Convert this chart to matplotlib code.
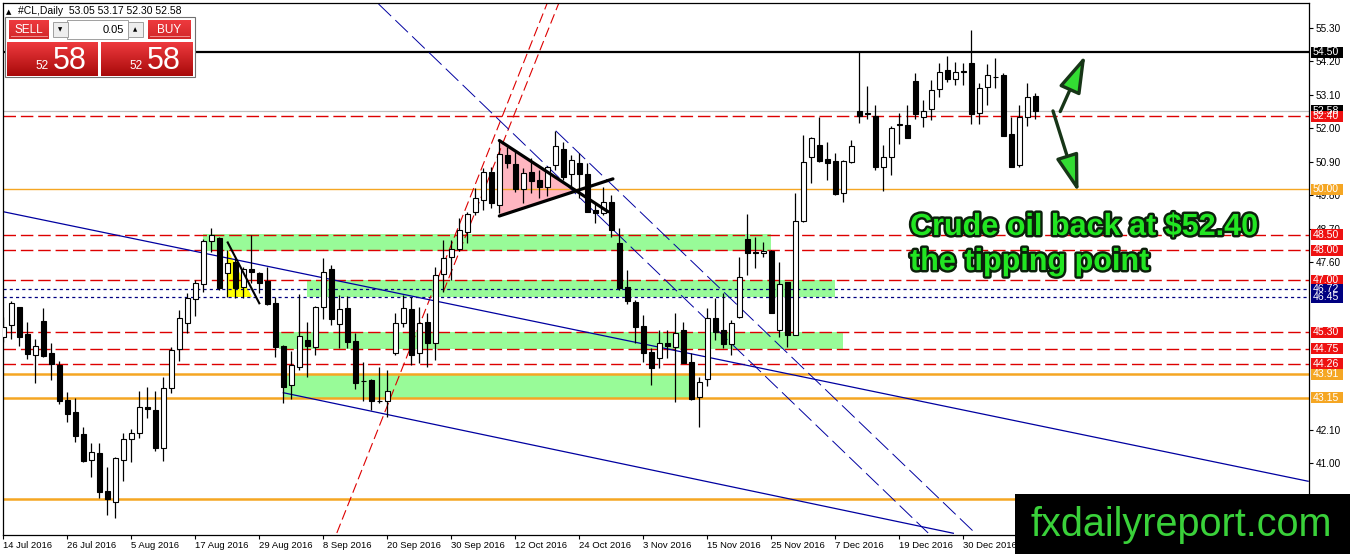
import matplotlib
matplotlib.use('Agg')
import matplotlib.pyplot as plt
import matplotlib.patheffects as pe
from matplotlib.patches import Rectangle, Polygon, FancyArrowPatch
from matplotlib.colors import LinearSegmentedColormap
import numpy as np

plt.rcParams['font.family'] = ['Liberation Sans', 'DejaVu Sans']

# #CL daily bars (one entry per bar)
opens = [45.15, 45.53, 46.12, 45.23, 44.55, 45.67, 44.61, 44.22, 43.07, 42.68,
         41.95, 41.10, 41.33, 40.08, 39.71, 41.10, 41.78, 41.97, 42.83, 42.74,
         41.48, 43.46, 44.74, 45.59, 46.38, 46.88, 48.29, 48.39, 47.24, 47.62,
         46.80, 47.37, 47.24, 46.99, 46.25, 44.85, 43.55, 44.15, 45.04, 44.82,
         46.12, 47.37, 45.57, 46.08, 45.02, 43.71, 43.73, 43.05, 43.03, 44.61,
         45.61, 46.05, 44.61, 45.65, 44.95, 47.21, 47.76, 48.03, 48.60, 49.26,
         49.65, 50.58, 49.48, 51.13, 50.83, 50.00, 50.58, 50.30, 50.06, 50.80,
         51.31, 50.50, 50.85, 50.50, 49.32, 49.21, 49.59, 48.22, 46.78, 46.30,
         45.50, 44.65, 44.44, 44.95, 44.82, 45.37, 44.33, 43.18, 43.75, 45.76,
         45.37, 44.91, 45.81, 48.35, 47.95, 47.91, 47.98, 45.37, 46.96, 45.21,
         48.97, 51.05, 51.45, 50.98, 50.93, 49.87, 50.90, 52.57, 52.50, 52.42,
         50.74, 51.07, 52.11, 52.11, 53.56, 52.39, 52.64, 53.28, 53.92, 53.61,
         53.87, 54.14, 52.49, 53.35, 53.70, 53.75, 51.80, 50.80, 52.36, 53.05]
highs = [45.81, 46.34, 46.13, 45.65, 45.07, 46.08, 44.95, 44.36, 43.34, 43.13,
         42.19, 41.67, 41.67, 40.88, 41.19, 41.97, 42.11, 43.37, 43.51, 43.37,
         43.84, 44.82, 46.02, 46.58, 47.02, 48.35, 48.72, 48.42, 47.99, 47.73,
         47.45, 48.50, 47.29, 47.45, 46.45, 44.87, 44.69, 46.56, 45.65, 46.16,
         47.73, 47.51, 46.52, 46.49, 45.26, 44.33, 43.75, 44.17, 44.06, 45.93,
         46.52, 46.47, 46.14, 45.92, 47.45, 48.33, 48.33, 49.04, 49.26, 50.03,
         50.69, 50.74, 51.62, 51.40, 51.29, 50.69, 51.02, 50.63, 50.76, 51.92,
         51.56, 51.13, 51.18, 50.87, 49.59, 50.06, 49.81, 48.72, 47.34, 46.36,
         45.86, 44.77, 45.37, 45.37, 45.92, 45.65, 44.61, 43.84, 46.08, 46.41,
         46.58, 45.70, 47.78, 49.19, 48.44, 48.27, 48.00, 47.62, 46.96, 49.89,
         51.78, 51.73, 52.38, 51.56, 51.18, 50.96, 51.62, 54.50, 53.39, 52.77,
         51.45, 52.08, 52.49, 52.77, 53.81, 52.93, 53.59, 54.14, 54.38, 54.19,
         54.14, 55.23, 53.48, 54.12, 54.30, 53.81, 52.38, 52.77, 53.48, 53.17]
lows = [44.99, 45.07, 44.85, 44.41, 43.64, 44.50, 43.73, 42.94, 42.35, 41.68,
        41.04, 40.55, 39.84, 39.28, 39.18, 40.42, 41.04, 41.81, 42.47, 41.40,
        41.08, 43.31, 44.36, 45.28, 45.83, 46.63, 47.95, 46.70, 46.45, 46.41,
        46.41, 46.91, 46.60, 46.19, 44.49, 42.98, 43.09, 44.06, 43.84, 44.55,
        45.72, 45.54, 44.77, 44.78, 43.42, 43.05, 42.74, 42.98, 42.52, 44.55,
        45.48, 44.22, 44.28, 44.17, 44.39, 46.63, 47.02, 47.98, 48.24, 49.15,
        49.32, 49.37, 49.21, 50.69, 49.92, 49.54, 49.87, 49.70, 49.77, 50.63,
        50.30, 50.08, 49.70, 49.24, 48.88, 49.15, 48.44, 46.69, 46.23, 44.95,
        44.33, 43.56, 44.11, 44.44, 43.02, 44.28, 43.07, 42.19, 43.53, 45.04,
        44.77, 44.55, 45.76, 47.18, 47.40, 47.78, 45.92, 45.13, 44.82, 45.21,
        48.93, 50.19, 50.91, 50.30, 49.81, 49.59, 50.85, 52.17, 52.31, 50.63,
        49.95, 50.47, 51.49, 51.67, 52.30, 52.05, 52.28, 53.02, 53.54, 53.43,
        53.43, 52.14, 52.14, 52.77, 53.32, 51.76, 50.72, 50.74, 52.08, 52.30]
closes = [45.48, 46.27, 45.13, 44.57, 44.85, 44.52, 44.25, 43.05, 42.60, 41.90,
          41.08, 41.35, 40.06, 39.82, 41.15, 41.78, 41.97, 42.85, 42.77, 41.48,
          43.46, 44.72, 45.76, 46.41, 46.91, 48.31, 48.50, 46.74, 47.57, 46.74,
          47.37, 47.29, 46.93, 46.23, 44.82, 43.51, 44.22, 45.17, 44.85, 46.12,
          47.29, 45.72, 46.05, 44.97, 43.62, 43.68, 43.05, 43.03, 43.38, 45.61,
          46.08, 44.55, 45.59, 44.94, 47.18, 47.73, 48.03, 48.66, 49.19, 49.70,
          50.58, 49.56, 51.16, 50.85, 50.00, 50.52, 50.28, 50.06, 50.74, 51.42,
          50.39, 50.96, 50.50, 49.26, 49.21, 49.59, 48.66, 46.74, 46.33, 45.48,
          44.63, 44.11, 44.95, 44.85, 45.28, 44.30, 43.10, 43.67, 45.76, 45.32,
          44.91, 45.59, 47.10, 47.89, 47.91, 47.98, 45.92, 46.88, 45.21, 48.97,
          50.89, 51.67, 50.94, 50.87, 49.83, 50.94, 51.43, 52.42, 52.48, 50.74,
          51.07, 52.02, 52.14, 51.67, 52.47, 52.58, 53.26, 53.85, 53.62, 53.84,
          53.86, 52.46, 53.34, 53.75, 53.69, 51.76, 50.74, 52.36, 53.02, 52.58]

date_ticks = [0, 8, 16, 24, 32, 40, 48, 56, 64, 72, 80, 88, 96, 104, 112, 120]
date_labels = ['14 Jul 2016', '26 Jul 2016', '5 Aug 2016', '17 Aug 2016',
               '29 Aug 2016', '8 Sep 2016', '20 Sep 2016', '30 Sep 2016',
               '12 Oct 2016', '24 Oct 2016', '3 Nov 2016', '15 Nov 2016',
               '25 Nov 2016', '7 Dec 2016', '19 Dec 2016', '30 Dec 2016']
# grid prices that the terminal still prints (the rest sit under price tags)
price_ticks = [55.30, 54.20, 53.10, 52.00, 50.90, 49.80, 48.70, 47.60,
               42.10, 41.00]

# horizontal levels
resistance = 54.50
bid = 52.58
red_levels = [52.40, 48.50, 48.00, 47.00, 45.30, 44.75, 44.26]
navy_levels = [46.72, 46.45]
orange_thin = [50.00]
orange_thick = [43.91, 43.15, 39.80]

# price tags on the right edge: (price, colour)
tags = [(54.50, 'black'), (52.58, 'black'), (52.40, '#ee1111'),
        (50.00, '#f5a623'), (48.50, '#ee1111'), (48.00, '#ee1111'),
        (47.00, '#ee1111'), (46.72, '#000080'), (46.45, '#000080'),
        (45.30, '#ee1111'), (44.75, '#ee1111'), (44.26, '#ee1111'),
        (43.91, '#f5a623'), (43.15, '#f5a623'), (39.80, '#f5a623')]

# green zones: (first bar, last bar, low, high)
zones = [(24.9, 96.0, 47.96, 48.54), (38.0, 104.0, 46.45, 47.03),
         (34.4, 105.0, 44.75, 45.32), (35.0, 86.0, 43.15, 43.91)]

# drawn objects, as (bar, price) anchor points
pennant_fill = [(62.0, 51.60), (62.0, 49.12), (71.5, 49.97)]
pennant_top = [(62.0, 51.60), (75.6, 49.26)]
pennant_bot = [(62.0, 49.12), (76.2, 50.34)]
flag_fill = [(28.05, 47.99), (28.05, 46.45), (31.05, 46.45)]
flag_line = [(28.05, 48.25), (32.0, 46.25)]
red_channel = [[(41.69, 38.70), (67.99, 56.12)], [(55.0, 46.63), (69.44, 56.12)]]
blue_dashed = [[(46.9, 56.09), (115.6, 38.70)], [(69.05, 51.92), (121.46, 38.70)]]
blue_solid = [[(0.0, 49.26), (163.1, 40.40)], [(35.0, 43.31), (118.75, 38.69)]]
arrow_up = [(131.97, 52.47), (135.4, 54.49)]
arrow_down = [(131.1, 52.66), (134.5, 49.81)]

fig = plt.figure(figsize=(13.5, 5.54), dpi=100)
fig.patch.set_facecolor('white')
ax = fig.add_axes([0.002, 0.0343, 0.9676, 0.9603])
ax.set_xlim(-0.075, 163.2)
ax.set_ylim(38.633, 56.122)

for x0, x1, lo, hi in zones:
    ax.add_patch(Rectangle((x0, lo), x1 - x0, hi - lo, facecolor='#98fb98',
                           edgecolor='none', zorder=1))
ax.add_patch(Polygon(pennant_fill, closed=True, facecolor='#ffb6c1',
                     edgecolor='none', zorder=1.5))
ax.add_patch(Polygon(flag_fill, closed=True, facecolor='#ffff00',
                     edgecolor='none', zorder=1.5))

ax.axhline(resistance, color='black', lw=1.6, zorder=2)
ax.axhline(bid, color='#c0c0c0', lw=0.9, zorder=2)
for p in red_levels:
    ax.axhline(p, color='#dd0000', lw=1.0, ls=(0, (9, 3.5)), zorder=2)
for p in navy_levels:
    ax.axhline(p, color='#000080', lw=0.9, ls=(0, (2.5, 2.5)), zorder=2)
for p in orange_thin:
    ax.axhline(p, color='#f5a623', lw=1.0, zorder=2)
for p in orange_thick:
    ax.axhline(p, color='#f5a623', lw=1.8, zorder=2)

for seg in red_channel:
    xs, ys = zip(*seg)
    ax.plot(xs, ys, color='#dd0000', lw=0.8, ls=(0, (9, 4)), zorder=2.2)
for seg in blue_dashed:
    xs, ys = zip(*seg)
    ax.plot(xs, ys, color='#0000a0', lw=0.7, ls=(0, (18, 6)), zorder=2.2)
for seg in blue_solid:
    xs, ys = zip(*seg)
    ax.plot(xs, ys, color='#0000a0', lw=0.9, zorder=2.2)

# candles
o = np.array(opens)
h = np.array(highs)
l = np.array(lows)
c = np.array(closes)
idx = np.arange(len(o))
ax.vlines(idx, l, h, color='black', lw=0.9, zorder=3)
body = np.maximum(np.abs(c - o), 0.015)
ax.bar(idx, body, bottom=np.minimum(o, c), width=0.62,
       color=np.where(c >= o, 'white', 'black'), edgecolor='black', lw=0.8,
       zorder=3.5)

for seg in (pennant_top, pennant_bot):
    xs, ys = zip(*seg)
    ax.plot(xs, ys, color='black', lw=2.3, solid_capstyle='round', zorder=4)
xs, ys = zip(*flag_line)
ax.plot(xs, ys, color='black', lw=1.5, zorder=4)

for tail, tip in (arrow_up, arrow_down):
    ax.add_patch(FancyArrowPatch(tail, tip, arrowstyle='-|>,head_length=2.3,head_width=0.7',
                                 mutation_scale=10, lw=2.4, edgecolor='#173517',
                                 facecolor='#33dd33', zorder=5))

# axes cosmetics
for s in ax.spines.values():
    s.set_color('black')
    s.set_linewidth(0.9)
ax.yaxis.tick_right()
ax.set_yticks(price_ticks)
ax.set_yticklabels([f'{p:.2f}' for p in price_ticks])
ax.set_xticks(date_ticks)
ax.set_xticklabels(date_labels, ha='left')
ax.tick_params(axis='both', direction='out', length=3, width=0.8, colors='black')
ax.tick_params(axis='y', pad=2, labelsize=7.2)
ax.tick_params(axis='x', pad=1.5, labelsize=6.8)

ytr = ax.get_yaxis_transform()
px = 1 / (0.9676 * 1350)
for p, col in tags:
    ax.add_patch(Rectangle((1 + 2 * px, p - 0.18), 32 * px, 0.36, transform=ytr,
                           facecolor=col, edgecolor='none', clip_on=False, zorder=6))
    ax.text(1 + 3.5 * px, p, f'{p:.2f}', transform=ytr, color='white', fontsize=7.6,
            va='center', ha='left', clip_on=False, zorder=7)

# overlay in pixel coordinates for the trading panel, caption and watermark
ov = fig.add_axes([0, 0, 1, 1])
ov.set_autoscale_on(False)
ov.set_xlim(0, 1350)
ov.set_ylim(554, 0)
ov.axis('off')

reds = LinearSegmentedColormap.from_list('reds', ['#ee3a3e', '#a80a0a'])
grad = np.linspace(0, 1, 50).reshape(-1, 1)

ov.add_patch(Rectangle((5, 17), 190, 60, facecolor='white', edgecolor='#707070', lw=0.8))
ov.text(6, 14, '\u25b2', fontsize=5, ha='left', va='baseline', family='DejaVu Sans')
ov.text(18, 14, f'#CL,Daily  {opens[-1]:.2f} {highs[-1]:.2f} {lows[-1]:.2f} {closes[-1]:.2f}',
        fontsize=7.5, ha='left', va='baseline')

for x0, w, lab in ((9, 40, 'SELL'), (148, 43, 'BUY')):
    ov.imshow(grad * 0.4, cmap=reds, vmin=0, vmax=1, extent=(x0, x0 + w, 39, 20),
              aspect='auto', zorder=2)
    ov.plot([x0 + 2, x0 + w - 2], [36, 36], color='#f4a0a0', lw=0.6, zorder=3)
    ov.text(x0 + w / 2, 30, lab, color='white', fontsize=8.5, ha='center',
            va='center', zorder=4)

ov.add_patch(Rectangle((67, 20), 61, 19, facecolor='white', edgecolor='#a0a0a0', lw=0.7))
ov.text(124, 30, '0.05', fontsize=8, ha='right', va='center')
for x0, glyph in ((53, '\u25bc'), (128, '\u25b2')):
    ov.add_patch(Rectangle((x0, 22), 15, 15, facecolor='#eeeeee', edgecolor='#a0a0a0', lw=0.7))
    ov.text(x0 + 7.5, 29.5, glyph, fontsize=4, ha='center', va='center', family='DejaVu Sans')

big, small = f'{closes[-1]:.2f}'.split('.')
for x0, w in ((7, 91), (101, 92)):
    ov.imshow(grad, cmap=reds, vmin=0, vmax=1, extent=(x0, x0 + w, 76, 42),
              aspect='auto', zorder=2)
    ov.text(x0 + 28, 69, big, color='white', fontsize=8.5, ha='left',
            va='baseline', zorder=4)
    ov.text(x0 + 46, 69, small, color='white', fontsize=22, ha='left',
            va='baseline', zorder=4)

stroke = [pe.withStroke(linewidth=3.5, foreground='#0b1f0b')]
ov.text(910, 235, 'Crude oil back at $52.40', color='#22e622', fontsize=22,
        weight='bold', ha='left', va='baseline', path_effects=stroke)
ov.text(910, 270, 'the tipping point', color='#22e622', fontsize=22,
        weight='bold', ha='left', va='baseline', path_effects=stroke)

ov.add_patch(Rectangle((1015, 494), 335, 60, facecolor='black', edgecolor='none', zorder=5))
ov.text(1181, 536, 'fxdailyreport.com', color='#3ad13a', fontsize=28.5,
        ha='center', va='baseline', zorder=6)

fig.savefig('out.png', dpi=100)
